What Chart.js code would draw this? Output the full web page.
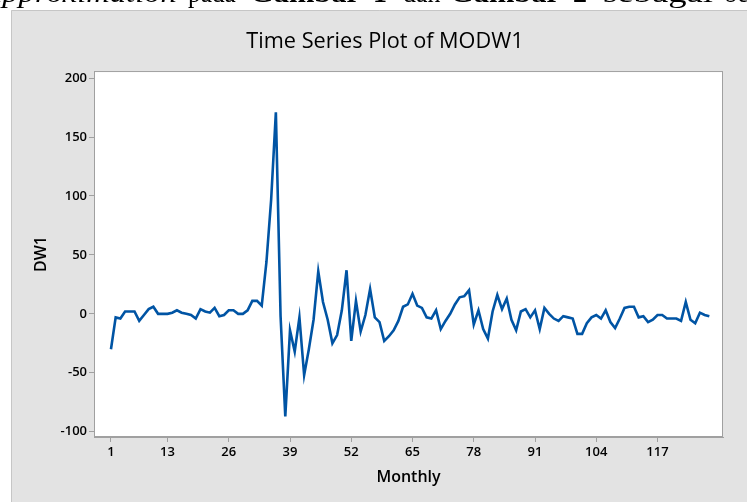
<!DOCTYPE html>
<html>
<head>
<meta charset="utf-8">
<script src="https://cdn.jsdelivr.net/npm/chart.js@4.4.1/dist/chart.umd.min.js"></script>
<style>
  html, body { margin: 0; padding: 0; background: #fff; overflow: hidden; }
  #wrap { position: relative; width: 747px; height: 502px; overflow: hidden; }
  #chart { position: absolute; left: 0; top: 0; }
  .caption { position: absolute; top: -21.5px; font-family: "Liberation Serif", serif; font-size: 28px; line-height: 28px; white-space: nowrap; color: #000; transform-origin: 0 0; }
</style>
</head>
<body>
<div id="wrap">
  <canvas id="chart" width="747" height="502"></canvas>
  <span class="caption" data-l="-14" data-r="177" style="font-style:italic">approximation</span>
  <span class="caption" data-l="188" data-r="236">pada</span>
  <span class="caption" data-l="250" data-r="360" style="font-weight:bold">Gambar</span>
  <span class="caption" data-l="373" data-r="387" style="font-weight:bold">1</span>
  <span class="caption" data-l="403" data-r="440">dan</span>
  <span class="caption" data-l="450" data-r="560" style="font-weight:bold">Gambar</span>
  <span class="caption" data-l="573" data-r="587" style="font-weight:bold">2</span>
  <span class="caption" data-l="603" data-r="713">sebagai</span>
  <span class="caption" data-l="725" data-r="795">berikut</span>
</div>
<script>
// values
const dw1 = [
  -30, -3, -4, 2, 2, 2, -6, -1, 4, 6,
  0, 0, 0, 1, 3, 1, 0, -1, -4, 4,
  2, 1, 5, -2, -1, 3, 3, 0, 0, 3,
  11, 11, 7, 44, 97, 171, -2, -87, -14, -32,
  -3, -52, -30, -5, 36, 10, -5, -25, -18, 3,
  37, -23, 11, -15, -1, 21, -3, -7, -23, -19,
  -14, -6, 6, 8, 17, 7, 5, -3, -4, 3,
  -13, -6, 0, 8, 14, 15, 20, -9, 3, -13,
  -21, 2, 16, 4, 13, -5, -14, 2, 4, -3,
  3, -13, 5, 0, -4, -6, -2, -3, -4, -17,
  -17, -8, -3, -1, -4, 3, -7, -12, -4, 5,
  6, 6, -3, -2, -7, -5, -1, -1, -4, -4,
  -4, -6, 10, -5, -8, 1, -1, -2
];
const months = dw1.map((v, i) => i + 1);
const xTicks = [1, 13, 26, 39, 52, 65, 78, 91, 104, 117];
const yTicks = [-100, -50, 0, 50, 100, 150, 200];

// squeeze the clipped caption words into the spots they take in the scan
document.querySelectorAll(".caption").forEach(el => {
  const l = +el.dataset.l, r = +el.dataset.r;
  el.style.left = l + "px";
  el.style.transform = "scaleX(" + ((r - l) / el.offsetWidth) + ")";
});

const tickFont = { family: "'Open Sans', sans-serif", size: 13, weight: "600" };
const axisGray = "#a0a0a0";

const framePlugin = {
  id: "frame",
  beforeDraw(chart) {
    const c = chart.ctx;
    const a = chart.chartArea;
    c.save();
    c.fillStyle = "#e3e3e3";
    c.fillRect(11, 10, 736, 492);
    c.strokeStyle = "#c6c6c6";
    c.lineWidth = 1;
    c.beginPath();
    c.moveTo(11.5, 502);
    c.lineTo(11.5, 10.5);
    c.lineTo(747, 10.5);
    c.stroke();
    c.fillStyle = "#fff";
    c.fillRect(a.left, a.top, a.right - a.left, a.bottom - a.top);
    c.restore();
  },
  afterDraw(chart) {
    const c = chart.ctx;
    const a = chart.chartArea;
    c.save();
    c.strokeStyle = axisGray;
    c.lineWidth = 1;
    c.strokeRect(a.left + 0.5, a.top + 0.5, a.right - a.left - 1, a.bottom - a.top - 1);
    c.restore();
  }
};

new Chart(document.getElementById("chart"), {
  type: "line",
  data: {
    datasets: [{
      label: "DW1",
      data: months.map((m, i) => ({ x: m, y: dw1[i] })),
      borderColor: "#0054a4",
      borderWidth: 2.6,
      pointRadius: 0,
      tension: 0,
      fill: false
    }]
  },
  options: {
    responsive: false,
    animation: false,
    // left padding pushes the title centre to where Minitab put it
    layout: { padding: { left: 23, right: 0, top: 0, bottom: 0 } },
    plugins: {
      legend: { display: false },
      tooltip: { enabled: false },
      title: {
        display: true,
        text: "Time Series Plot of MODW1",
        color: "#000",
        font: { family: "'Open Sans', sans-serif", size: 21.7, weight: "normal" },
        padding: { top: 28.6, bottom: 16.4 }
      }
    },
    scales: {
      x: {
        type: "linear",
        min: -2.6,
        max: 130.9,
        afterBuildTicks(scale) {
          scale.ticks = xTicks.map(v => ({ value: v }));
        },
        afterFit(scale) { scale.height = 65; },
        grid: { drawOnChartArea: false, drawTicks: true, tickLength: 5, color: axisGray },
        border: { display: true, color: axisGray },
        ticks: { color: "#000", font: tickFont, padding: 2, maxRotation: 0, autoSkip: false },
        title: {
          display: true,
          text: "Monthly",
          color: "#000",
          font: { family: "'Open Sans', sans-serif", size: 16, weight: "600" },
          padding: { top: 0, bottom: 15.4 }
        }
      },
      y: {
        min: -104.5,
        max: 206,
        afterBuildTicks(scale) {
          scale.ticks = yTicks.map(v => ({ value: v }));
        },
        afterFit(scale) { scale.width = 71; },
        grid: { drawOnChartArea: false, drawTicks: true, tickLength: 5, color: axisGray },
        border: { display: true, color: axisGray },
        ticks: { color: "#000", font: tickFont, padding: 2 },
        title: {
          display: true,
          text: "DW1",
          color: "#000",
          font: { family: "'Open Sans', sans-serif", size: 16, weight: "600" },
          padding: { top: 9, bottom: 0 }
        }
      },
      // empty right-hand strip so the plot ends at the same spot
      yRight: {
        position: "right",
        afterFit(scale) { scale.width = 24; },
        grid: { display: false },
        border: { display: false },
        ticks: { display: false }
      }
    }
  },
  plugins: [framePlugin]
});
</script>
</body>
</html>
